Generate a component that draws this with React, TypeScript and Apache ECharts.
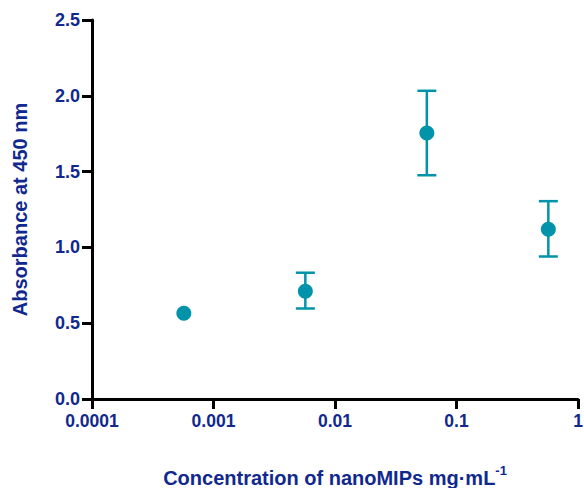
import React, { useEffect, useRef } from "react";
import * as echarts from "echarts";

const concentrations = [0.00057, 0.0057, 0.057, 0.57];
const absorbance = [0.565, 0.71, 1.755, 1.12];
const errLow = [null, 0.597, 1.476, 0.94];
const errHigh = [null, 0.833, 2.033, 1.305];
const xTickLabels = ["0.0001", "0.001", "0.01", "0.1", "1"];
const yTicks = [0, 0.5, 1.0, 1.5, 2.0, 2.5];

const TEXT = "#11298F";
const TEAL = "#0093A9";
const FONT = "'Liberation Sans', Arial, Helvetica, sans-serif";

export default function App() {
  const ref = useRef<HTMLDivElement>(null);
  useEffect(() => {
    document.body.style.margin = "0";
    const chart = echarts.init(ref.current!, null, { renderer: "svg" });
    const points = concentrations.map((c, i) => [c, absorbance[i]]);
    const errs = concentrations
      .map((c, i) => [c, errLow[i], errHigh[i]])
      .filter((d) => d[1] != null);
    chart.setOption({
      animation: false,
      grid: { left: 92, right: 6, top: 20, bottom: 89, containLabel: false, outerBoundsMode: "none" },
      xAxis: {
        type: "log",
        logBase: 10,
        min: 0.0001,
        max: 1,
        name: "{a|Concentration of nanoMIPs mg·mL}{s|-1}",
        nameLocation: "middle",
        nameGap: 65,
        nameTextStyle: {
          rich: {
            a: { fontSize: 20, fontWeight: "bold", color: TEXT, fontFamily: FONT, lineHeight: 24, verticalAlign: "bottom" },
            s: { fontSize: 13, fontWeight: "bold", color: TEXT, fontFamily: FONT, lineHeight: 24, verticalAlign: "top", padding: [0, 0, 12, 0] },
          },
        },
        axisLine: { show: true, onZero: false, lineStyle: { color: "#000", width: 3 } },
        axisTick: { show: true, length: 10, lineStyle: { color: "#000", width: 3 } },
        minorTick: { show: false },
        splitLine: { show: false },
        axisLabel: {
          margin: 13,
          fontSize: 17.5,
          fontWeight: "bold",
          color: TEXT,
          fontFamily: FONT,
          formatter: (v: number) => {
            const idx = Math.round(Math.log10(v)) + 4;
            return xTickLabels[idx] ?? "";
          },
        },
      },
      yAxis: {
        type: "value",
        min: 0,
        max: 2.5,
        interval: 0.5,
        name: "Absorbance at 450 nm",
        nameLocation: "middle",
        nameGap: 62,
        nameTextStyle: { fontSize: 20, fontWeight: "bold", color: TEXT, fontFamily: FONT },
        axisLine: { show: true, lineStyle: { color: "#000", width: 3 } },
        axisTick: { show: true, length: 10, lineStyle: { color: "#000", width: 3 } },
        splitLine: { show: false },
        axisLabel: {
          margin: 12,
          fontSize: 18,
          fontWeight: "bold",
          color: TEXT,
          fontFamily: FONT,
          formatter: (v: number) => {
            const t = yTicks.find((y) => Math.abs(y - v) < 1e-9);
            return (t ?? v).toFixed(1);
          },
        },
      },
      series: [
        {
          type: "custom",
          data: errs,
          z: 2,
          renderItem: (params: any, api: any) => {
            const x = api.value(0);
            const lo = api.coord([x, api.value(1)]);
            const hi = api.coord([x, api.value(2)]);
            const w = 9.5;
            const style = { stroke: TEAL, lineWidth: 2.5 };
            return {
              type: "group",
              children: [
                { type: "line", shape: { x1: lo[0], y1: lo[1], x2: hi[0], y2: hi[1] }, style },
                { type: "line", shape: { x1: hi[0] - w, y1: hi[1], x2: hi[0] + w, y2: hi[1] }, style },
                { type: "line", shape: { x1: lo[0] - w, y1: lo[1], x2: lo[0] + w, y2: lo[1] }, style },
              ],
            };
          },
        },
        {
          type: "scatter",
          data: points,
          symbol: "circle",
          symbolSize: 15,
          z: 3,
          itemStyle: { color: TEAL, opacity: 1 },
        },
      ],
    });
    return () => chart.dispose();
  }, []);
  return <div ref={ref} style={{ width: 584, height: 488 }} />;
}
